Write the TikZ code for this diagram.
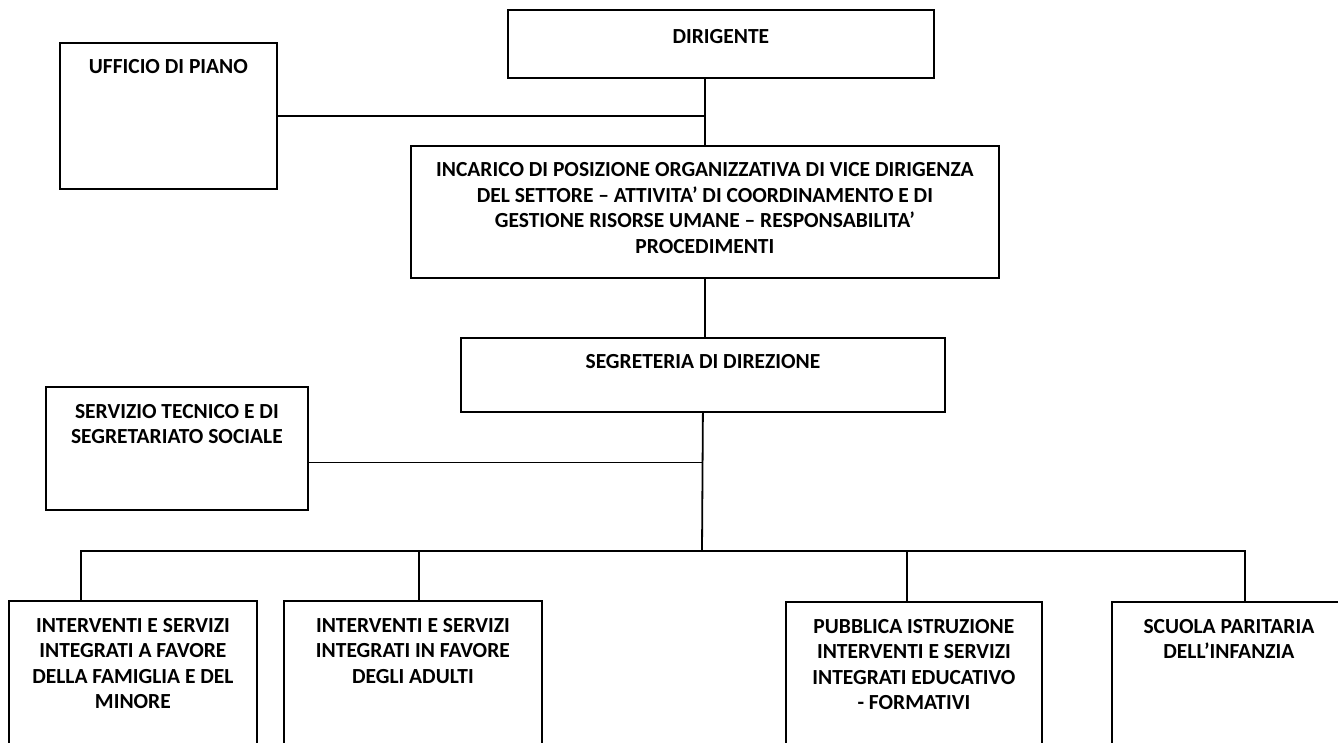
\documentclass[tikz,border=0pt]{standalone}
\usepackage{fontspec}
\setmainfont{Carlito}
\usepackage{tikz}

% text of a box, set from its top edge
\newcommand{\boxtext}[3]{\begin{minipage}[t][#2][t]{#1}\centering\vspace*{17pt}#3\end{minipage}}

\begin{document}
\begin{tikzpicture}[x=1pt, y=-1pt,
    orgbox/.style={draw, line width=1.8pt, inner sep=0pt, anchor=north west,
        font=\fontsize{21.5pt}{25.5pt}\selectfont\bfseries},
    link/.style={line width=1.8pt}
]
    \useasboundingbox (0,0) rectangle (1338,743);

    % Top part
    \node[orgbox] (dir) at (507,9) {\boxtext{426pt}{68pt}{\vspace*{3pt}DIRIGENTE}};
    \node[orgbox] (uff) at (59,42) {\boxtext{217pt}{146pt}{UFFICIO DI PIANO}};
    \node[orgbox] (inc) at (410,145) {\boxtext{588pt}{132pt}{INCARICO DI POSIZIONE ORGANIZZATIVA DI VICE DIRIGENZA\\
        DEL SETTORE – ATTIVITA’ DI COORDINAMENTO E DI\\
        GESTIONE RISORSE UMANE – RESPONSABILITA’\\
        PROCEDIMENTI}};
    \node[orgbox] (seg) at (460,337) {\boxtext{484pt}{74pt}{SEGRETERIA DI DIREZIONE}};
    \node[orgbox] (svc) at (45,386) {\boxtext{262pt}{123pt}{SERVIZIO TECNICO E DI\\ SEGRETARIATO SOCIALE}};

    % Bottom row
    \node[orgbox] (fam) at (8,600) {\boxtext{248pt}{170pt}{INTERVENTI E SERVIZI\\ INTEGRATI A FAVORE\\ DELLA FAMIGLIA E DEL\\ MINORE}};
    \node[orgbox] (adu) at (283,600) {\boxtext{258pt}{170pt}{INTERVENTI E SERVIZI\\ INTEGRATI IN FAVORE\\ DEGLI ADULTI}};
    \node[orgbox] (pub) at (785,601) {\boxtext{256pt}{170pt}{PUBBLICA ISTRUZIONE\\ INTERVENTI E SERVIZI\\ INTEGRATI EDUCATIVO\\ - FORMATIVI}};
    \node[orgbox] (scu) at (1111,601) {\boxtext{234pt}{170pt}{SCUOLA PARITARIA\\ DELL’INFANZIA}};

    \coordinate (hub) at (702,551);

    \draw[link] (inc.north) -- (inc.north |- dir.south);
    \draw[link] (uff.east) -- (uff.east -| inc.north);
    \draw[link] (inc.south) -- (inc.south |- seg.north);
    \draw[link] (seg.south) -- (hub);
    \draw[link] ([yshift=-14pt]svc.east) -- ([yshift=-14pt]svc.east -| hub);
    \draw[link] ([xshift=-52pt]fam.north) |- (hub) -| ([xshift=16pt]scu.north);
    \draw[link] ([xshift=6pt]adu.north) -- ([xshift=6pt]adu.north |- hub);
    \draw[link] ([xshift=-7pt]pub.north) -- ([xshift=-7pt]pub.north |- hub);
\end{tikzpicture}
\end{document}
